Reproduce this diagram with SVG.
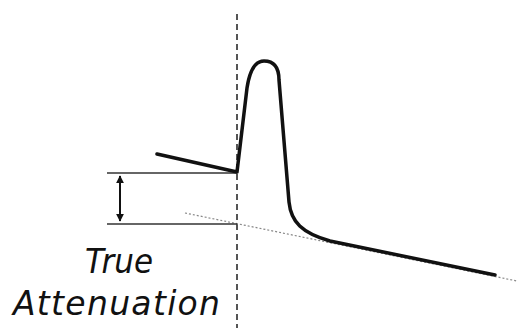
<svg xmlns="http://www.w3.org/2000/svg" width="529" height="328" viewBox="0 0 529 328">
<style>
.lbl{font-family:"DejaVu Sans","Open Sans",sans-serif;font-style:italic;font-size:33px;fill:#111;text-anchor:middle}
.trace{fill:none;stroke:#111;stroke-width:3.5;stroke-linejoin:round;stroke-linecap:round}
.ref{stroke:#333;stroke-width:1.6;fill:none}
</style>
<defs>
<marker id="ah" viewBox="0 0 10 10" refX="9" refY="5" markerWidth="8" markerHeight="8" markerUnits="userSpaceOnUse" orient="auto-start-reverse">
<path d="M0,0 L10,5 L0,10 z" fill="#111"/>
</marker>
</defs>
<rect width="529" height="328" fill="#fff"/>
<g id="connectors">
<line x1="237" y1="14" x2="237" y2="328" stroke="#555" stroke-width="2" stroke-dasharray="6,4"/>
<line x1="185" y1="213" x2="517" y2="281" stroke="#888" stroke-width="1.2" stroke-dasharray="2,2"/>
<line class="ref" x1="107" y1="173" x2="237" y2="173"/>
<line class="ref" x1="107" y1="224" x2="237" y2="224"/>
<line x1="120" y1="176" x2="120" y2="221" stroke="#111" stroke-width="2" marker-start="url(#ah)" marker-end="url(#ah)"/>
</g>
<g id="trace">
<path class="trace" d="M157,154 L237,172 L247,88 C250,68 256,61 264,61 C273,61 279,66 279,80 L289,202 C291,222 302,233 330,241 L495,275"/>
</g>
<g id="label">
<text class="lbl" x="119" y="273" textLength="68" lengthAdjust="spacingAndGlyphs">True</text>
<text class="lbl" x="116.5" y="315" textLength="207" lengthAdjust="spacing">Attenuation</text>
</g>
</svg>
